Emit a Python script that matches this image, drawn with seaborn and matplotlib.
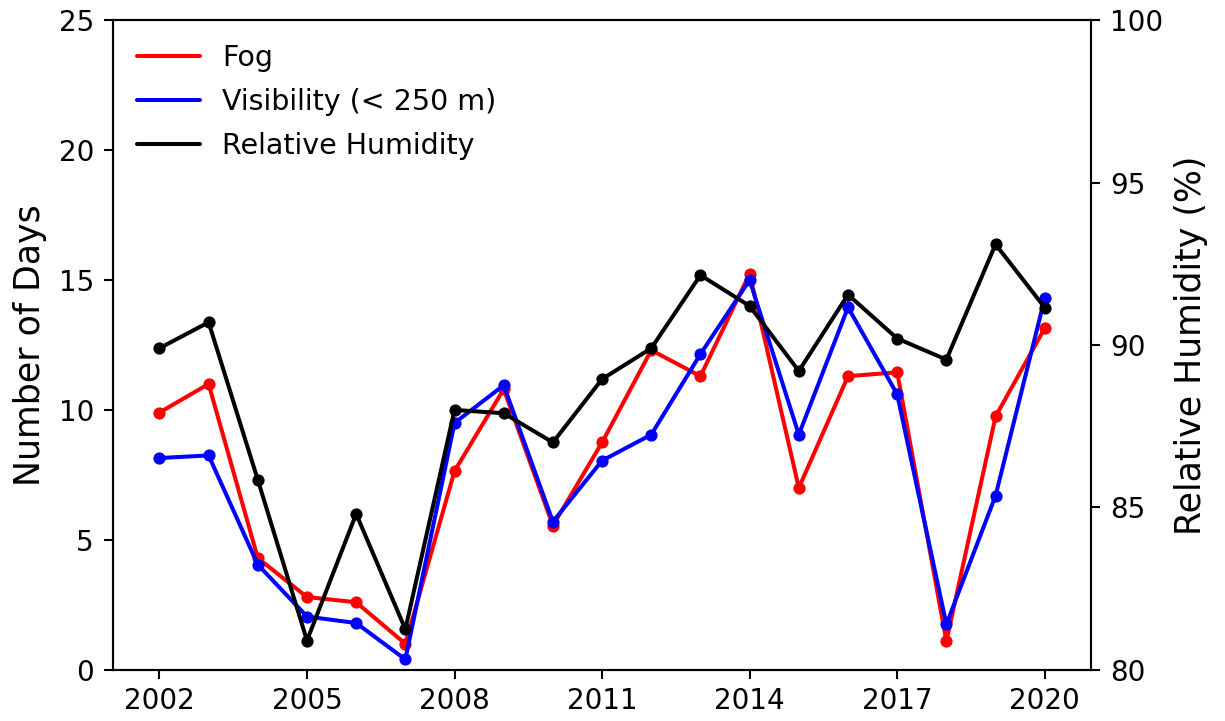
import matplotlib
matplotlib.use("Agg")
import matplotlib.pyplot as plt
from matplotlib.lines import Line2D
import seaborn as sns
import pandas as pd

years = list(range(2002, 2021))
fog_days = [9.9, 11.0, 4.3, 2.8, 2.6, 1.0, 7.65, 10.8, 5.55, 8.75, 12.3, 11.3, 15.25,
            7.0, 11.3, 11.45, 1.1, 9.75, 13.15]
visibility_days = [8.15, 8.25, 4.05, 2.05, 1.8, 0.4, 9.5, 10.95, 5.7, 8.05, 9.05, 12.15, 15.0,
                   9.05, 13.95, 10.6, 1.75, 6.7, 14.3]
rel_humidity = [89.9, 90.7, 85.85, 80.9, 84.8, 81.25, 88.0, 87.9, 87.0, 88.95, 89.9, 92.15, 91.2,
                89.2, 91.55, 90.2, 89.55, 93.1, 91.15]
xtick_years = [2002, 2005, 2008, 2011, 2014, 2017, 2020]

sns.set_style("white")
plt.rcParams["font.family"] = ["DejaVu Sans"]
plt.rcParams["text.color"] = "black"
plt.rcParams["axes.labelcolor"] = "black"
plt.rcParams["xtick.color"] = "black"
plt.rcParams["ytick.color"] = "black"

df = pd.DataFrame({"year": years, "fog": fog_days, "vis": visibility_days, "rh": rel_humidity})

fig = plt.figure(figsize=(12.25, 7.21), dpi=100)
ax = fig.add_axes([0.092, 0.071, 0.799, 0.901])
ax2 = ax.twinx()

lw = 2.9
ms = 8.8
sns.lineplot(data=df, x="year", y="fog", ax=ax, color="#ff0000", lw=lw, marker="o",
             markersize=ms, markeredgewidth=0)
sns.lineplot(data=df, x="year", y="vis", ax=ax, color="#0000ff", lw=lw, marker="o",
             markersize=ms, markeredgewidth=0)
sns.lineplot(data=df, x="year", y="rh", ax=ax2, color="black", lw=lw, marker="o",
             markersize=ms, markeredgewidth=0)

ax.set_ylim(0, 25)
ax2.set_ylim(80, 100)
ax.set_xlim(2001.05, 2020.95)
ax.set_xticks(xtick_years)
ax.set_yticks([0, 5, 10, 15, 20, 25])
ax2.set_yticks([80, 85, 90, 95, 100])

ax.set_xlabel("")
ax.set_ylabel("Number of Days", fontsize=25, labelpad=8)
ax2.set_ylabel("Relative Humidity (%)", fontsize=25, labelpad=8)

for a in (ax, ax2):
    a.tick_params(labelsize=20, direction="out", length=6.5, width=1.5, pad=7,
                  colors="black")
    for s in a.spines.values():
        s.set_linewidth(1.5)
        s.set_color("black")
ax.tick_params(axis="x", bottom=True, pad=6)
ax.tick_params(axis="y", left=True)
ax2.tick_params(axis="y", right=True)

handles = [
    Line2D([0], [0], color="#ff0000", lw=lw),
    Line2D([0], [0], color="#0000ff", lw=lw),
    Line2D([0], [0], color="black", lw=lw),
]
labels = ["Fog", "Visibility (< 250 m)", "Relative Humidity"]
ax.legend(handles, labels, loc="upper left", frameon=False, fontsize=20.5,
          handlelength=2.2, handletextpad=0.8, labelspacing=0.55, borderaxespad=0.45)

fig.savefig("out.png", dpi=100)
